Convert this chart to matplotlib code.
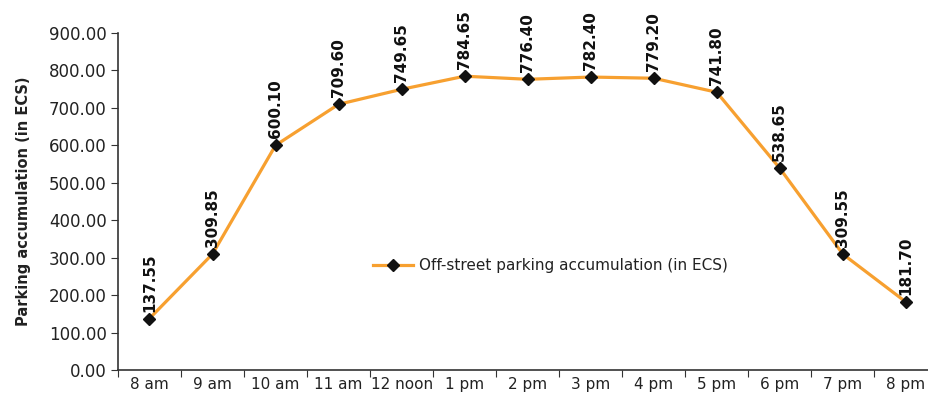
import matplotlib
matplotlib.use('Agg')
import matplotlib.pyplot as plt

# Data
hours = ["8 am", "9 am", "10 am", "11 am", "12 noon", "1 pm", "2 pm",
         "3 pm", "4 pm", "5 pm", "6 pm", "7 pm", "8 pm"]
accumulation = [137.55, 309.85, 600.10, 709.60, 749.65, 784.65, 776.40,
                782.40, 779.20, 741.80, 538.65, 309.55, 181.70]
yticks = [0, 100, 200, 300, 400, 500, 600, 700, 800, 900]

plt.rcParams['font.family'] = ['DejaVu Sans']
axis_col = '#333333'
line_col = '#F7A030'

fig = plt.figure(figsize=(9.29, 3.93), dpi=100, facecolor='white')
ax = fig.add_axes([0.127, 0.0585, 0.882, 0.8575])

x = list(range(len(hours)))
ax.plot(x, accumulation, color=line_col, linewidth=2.3, marker='D',
        markersize=6.5, markerfacecolor='#111111', markeredgecolor='#111111',
        label='Off-street parking accumulation (in ECS)', zorder=3)

for xi, v in zip(x, accumulation):
    ax.annotate(f"{v:.2f}", (xi, v), xytext=(0, 5), textcoords='offset points',
                rotation=90, ha='center', va='bottom', fontsize=11,
                fontweight='bold', color='#111111')

ax.set_xlim(-0.5, len(hours) - 0.5)
ax.set_ylim(0, 900)
ax.set_yticks(yticks)
ax.set_yticklabels([f"{t:.2f}" for t in yticks], fontsize=12, color='#222222')

# category labels between boundary ticks
ax.set_xticks([i - 0.5 for i in range(len(hours) + 1)])
ax.set_xticklabels([])
ax.set_xticks(x, minor=True)
ax.set_xticklabels(hours, minor=True, fontsize=11, color='#222222')
ax.tick_params(axis='x', which='minor', length=0, pad=5)
ax.tick_params(axis='x', which='major', length=5, direction='out', color=axis_col)
ax.tick_params(axis='y', length=5, direction='out', color=axis_col, pad=3)

for s in ['top', 'right']:
    ax.spines[s].set_visible(False)
for s in ['left', 'bottom']:
    ax.spines[s].set_color(axis_col)
    ax.spines[s].set_linewidth(1.2)

ax.set_ylabel("Parking accumulation (in ECS)", fontsize=10.5,
              fontweight='bold', color='#222222', labelpad=13)

ax.legend(loc='center left', bbox_to_anchor=(0.295, 0.31), frameon=False,
          fontsize=11, handlelength=2.6, handletextpad=0.4,
          labelcolor='#222222')

fig.savefig('out.png', dpi=100)
